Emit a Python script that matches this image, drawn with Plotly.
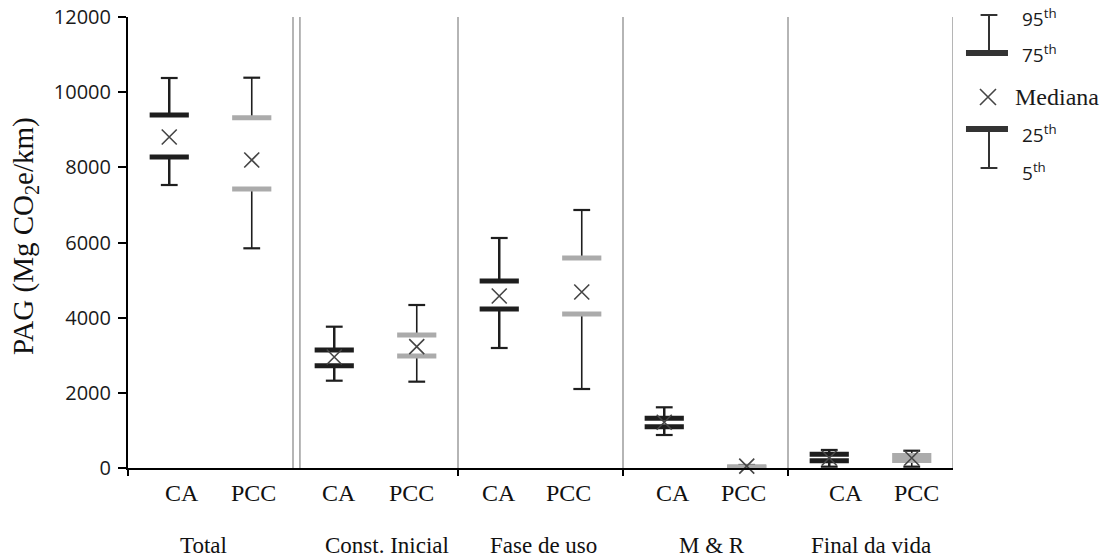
import plotly.graph_objects as go

# ---------------- data ----------------
categories = ["Total", "Const. Inicial", "Fase de uso", "M & R", "Final da vida"]
series_names = ["CA", "PCC"]

ca_p5 = [7530, 2323, 3193, 878, 35]
ca_p25 = [8275, 2722, 4231, 1099, 192]
ca_median = [8807, 2954, 4577, 1216, 266]
ca_p75 = [9392, 3140, 4976, 1322, 367]
ca_p95 = [10377, 3760, 6120, 1615, 480]

pcc_p5 = [5846, 2297, 2102, 0, 35]
pcc_p25 = [7423, 2980, 4098, 10, 200]
pcc_median = [8195, 3228, 4683, 50, 266]
pcc_p75 = [9321, 3539, 5588, 30, 333]
pcc_p95 = [10385, 4337, 6865, 80, 460]

y_ticks = [0, 2000, 4000, 6000, 8000, 10000, 12000]
legend_labels = ["95<sup>th</sup>", "75<sup>th</sup>", "Mediana", "25<sup>th</sup>", "5<sup>th</sup>"]

# ---------------- layout constants ----------------
series_offset = {"CA": 0.25, "PCC": 0.75}
ca_label_x = [0.33, 1.28, 2.25, 3.30, 4.35]
pcc_label_x = [0.76, 1.72, 2.67, 3.73, 4.78]
cat_label_x = [0.455, 1.57, 2.52, 3.54, 4.50]

SANS = "Open Sans"
SERIF = "Liberation Serif, Times New Roman, serif"
DARK = "#1e1e1e"
GREY_BAR = "#ababab"
X_COLOR = "#454545"

fig = go.Figure()

series = {
    "CA": (ca_p5, ca_p25, ca_median, ca_p75, ca_p95, DARK, 2.5),
    "PCC": (pcc_p5, pcc_p25, pcc_median, pcc_p75, pcc_p95, GREY_BAR, 1.6),
}

for name in series_names:
    p5, p25, med, p75, p95, bar_col, wl = series[name]
    xs = [i + series_offset[name] for i in range(len(categories))]
    # whiskers
    lx, ly = [], []
    for x, a, b, c, d in zip(xs, p5, p25, p75, p95):
        lx += [x, x, None, x, x, None]
        ly += [a, b, None, c, d, None]
    fig.add_trace(go.Scatter(x=lx, y=ly, mode="lines", line=dict(color=DARK, width=wl),
                             hoverinfo="skip", showlegend=False, cliponaxis=False))
    # whisker caps
    fig.add_trace(go.Scatter(x=xs + xs, y=p5 + p95, mode="markers",
                             marker=dict(symbol="line-ew", size=12,
                                         line=dict(color=DARK, width=2.2)),
                             showlegend=False, cliponaxis=False))
    # quartile bars
    fig.add_trace(go.Scatter(x=xs + xs, y=p25 + p75, mode="markers",
                             marker=dict(symbol="line-ew", size=28,
                                         line=dict(color=bar_col, width=5)),
                             showlegend=False, cliponaxis=False))
    # median
    fig.add_trace(go.Scatter(x=xs, y=med, mode="markers",
                             marker=dict(symbol="x-thin", size=15,
                                         line=dict(color=X_COLOR, width=1.6)),
                             showlegend=False, cliponaxis=False))

# ---------------- custom legend (x2 / y2 in screen-pixel-like units) ----------------
LX = 989
fig.add_trace(go.Scatter(x=[LX, LX, None, LX, LX], y=[15, 53, None, 129, 168], mode="lines",
                         line=dict(color="#333333", width=2), xaxis="x2", yaxis="y2",
                         showlegend=False, cliponaxis=False, hoverinfo="skip"))
fig.add_trace(go.Scatter(x=[LX, LX], y=[15, 168], mode="markers",
                         marker=dict(symbol="line-ew", size=12, line=dict(color="#333333", width=2)),
                         xaxis="x2", yaxis="y2", showlegend=False, cliponaxis=False))
fig.add_trace(go.Scatter(x=[987, 987], y=[53, 129], mode="markers",
                         marker=dict(symbol="line-ew", size=30, line=dict(color="#333333", width=6)),
                         xaxis="x2", yaxis="y2", showlegend=False, cliponaxis=False))
fig.add_trace(go.Scatter(x=[988], y=[97], mode="markers",
                         marker=dict(symbol="x-thin", size=16, line=dict(color=X_COLOR, width=1.6)),
                         xaxis="x2", yaxis="y2", showlegend=False, cliponaxis=False))

legend_pos = [(1020, 18), (1020, 54), (1013, 97), (1020, 134), (1020, 172)]
annotations = []
for (lx, ly), txt in zip(legend_pos, legend_labels):
    font = dict(family=SERIF, size=24, color="#1a1a1a") if txt == "Mediana" else \
        dict(family=SANS, size=19, color="#1a1a1a")
    annotations.append(dict(x=lx, y=ly, xref="x2", yref="y2", text=txt, showarrow=False,
                            xanchor="left", yanchor="middle", font=font))

# ---------------- category and series labels ----------------
for i, cat in enumerate(categories):
    annotations.append(dict(x=ca_label_x[i], y=0, xref="x", yref="paper", text=series_names[0],
                            showarrow=False, yanchor="middle", yshift=-25,
                            font=dict(family=SERIF, size=24, color="#111")))
    annotations.append(dict(x=pcc_label_x[i], y=0, xref="x", yref="paper", text=series_names[1],
                            showarrow=False, yanchor="middle", yshift=-25,
                            font=dict(family=SERIF, size=24, color="#111")))
    annotations.append(dict(x=cat_label_x[i], y=0, xref="x", yref="paper", text=cat,
                            showarrow=False, yanchor="middle", yshift=-77,
                            font=dict(family=SERIF, size=23, color="#111")))

annotations.append(dict(x=0, y=6170, xref="paper", yref="y", xshift=-103,
                        text="PAG (Mg CO<sub>2</sub>e/km)", textangle=-90, showarrow=False,
                        xanchor="center", yanchor="middle",
                        font=dict(family=SERIF, size=29, color="#111")))

# ---------------- separators ----------------
shapes = []
for xv, y0 in [(1.0, -110), (1.042, -110), (2, 0), (3, 0), (4, 0), (5, 0)]:
    shapes.append(dict(type="line", xref="x", yref="y", x0=xv, x1=xv, y0=y0, y1=12000,
                       line=dict(color="#a3a3a3", width=1.6), layer="below"))

# page body adds an 8px offset; the figure is sized/placed to compensate
fig.update_layout(
    width=1102, height=552,
    margin=dict(l=120, r=0, t=0, b=92, autoexpand=False),
    paper_bgcolor="white", plot_bgcolor="white",
    showlegend=False,
    xaxis=dict(domain=[0, 0.84012], range=[0, 5], showgrid=False, zeroline=False,
               showline=True, linecolor="black", linewidth=2, automargin=False,
               tickvals=[0, 2, 3, 4], ticks="outside", ticklen=6, tickwidth=2, tickcolor="black",
               showticklabels=False, fixedrange=True),
    yaxis=dict(domain=[0, 0.98043], range=[0, 12000], showgrid=False, zeroline=False,
               showline=True, linecolor="black", linewidth=2, automargin=False,
               tickvals=y_ticks, tickformat="d", ticks="outside", ticklen=8, tickwidth=1.5,
               tickcolor="black", ticklabeloverflow="allow",
               tickfont=dict(family=SANS, size=20, color="#1a1a1a"), ticklabelstandoff=3),
    xaxis2=dict(domain=[0.8452, 1], range=[958, 1110], visible=False, anchor="y2",
                automargin=False),
    yaxis2=dict(domain=[0, 1], range=[468, 8], visible=False, anchor="x2", automargin=False),
    annotations=annotations,
    shapes=shapes,
)

fig.write_html("out.html")
